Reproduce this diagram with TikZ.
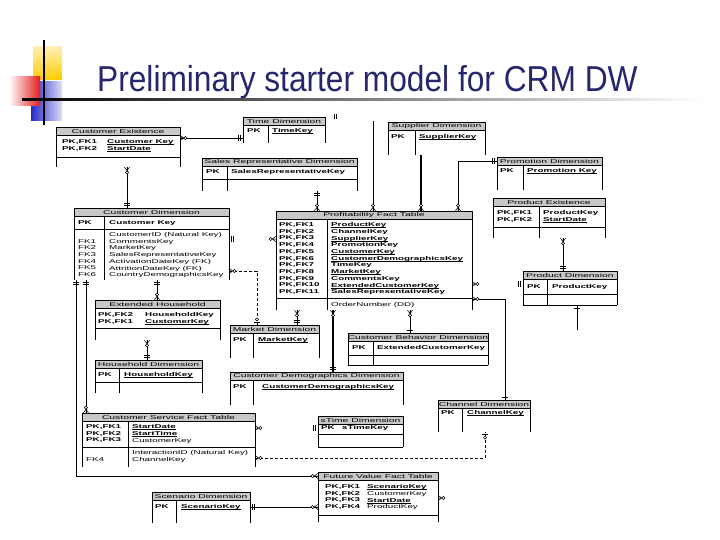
\documentclass[tikz,border=0pt]{standalone}
\usepackage{fontspec}
\setmainfont{Liberation Sans}
\newfontfamily\titlefont[FakeStretch=0.88]{Liberation Sans}
\newfontfamily\tblfont[FakeStretch=1.75]{Liberation Sans}
\newfontfamily\hdrfont[FakeStretch=1.85]{Liberation Sans}
\usetikzlibrary{positioning, calc, fit}
\definecolor{TitleNavy}{RGB}{38,38,110}
\definecolor{HeadGray}{RGB}{200,200,200}
\definecolor{DecoYellow}{RGB}{255,204,0}
\definecolor{DecoRed}{RGB}{230,30,30}
\definecolor{DecoBlue}{RGB}{40,40,200}

% bold key name, underlined just under the baseline
\newsavebox{\keybox}
\newcommand{\ukey}[1]{\sbox{\keybox}{\textbf{#1}}\rlap{\rule[-0.9pt]{\wd\keybox}{0.4pt}}\usebox{\keybox}}
\lineskiplimit=-6pt

\tikzset{
  tbltext/.style={font=\tblfont\fontsize{5.6}{6.7}\selectfont,
    inner sep=0pt, anchor=north west, align=left},
  tblhead/.style={fill=HeadGray, draw=black, line width=0.5pt, inner sep=0pt},
  hdrtext/.style={font=\hdrfont\fontsize{5.6}{6.7}\selectfont, inner sep=0pt},
  tblline/.style={line width=0.5pt},
  link/.style={line width=0.5pt},
  thicklink/.style={line width=1.6pt},
  dashlink/.style={line width=0.5pt, dash pattern=on 3pt off 2pt},
  pics/many/.style={code={
      \draw[link] (0,2.6pt) -- (3.5pt,0) -- (0,-2.6pt) (0,0) -- (3.5pt,0);
      \draw[link, fill=white] (5.2pt,0) circle (1.6pt);}},
  pics/one/.style={code={
      \draw[link] (2.5pt,-2.6pt) -- (2.5pt,2.6pt) (4.2pt,-2.6pt) -- (4.2pt,2.6pt);}},
  pics/onebar/.style={code={
      \draw[link] (3pt,-2.6pt) -- (3pt,2.6pt);}},
  pics/zeroone/.style={code={
      \draw[link] (2.5pt,-2.6pt) -- (2.5pt,2.6pt);
      \draw[link, fill=white] (5.5pt,0) circle (1.6pt);}},
}

% table frame: name, x1, y1, x2, y2, title
\newcommand{\ertable}[6]{%
  \node[inner sep=0pt, fit={(#2,#3) (#4,#5)}] (#1) {};
  \draw[tblline] (#1.south west) -- (#1.north west) -- (#1.north east) -- (#1.south east);
  \node[tblhead, fit={(#2,#3) (#4,{#3+8.5})}] (#1-h) {};
  \node[hdrtext] (#1-t) at (#1-h.center) {#6};
}
\newcommand{\tbldiv}[2]{\draw[tblline] (#1-h.south -| #2,0) -- (#1.south -| #2,0);}
\newcommand{\tblsep}[2]{\draw[tblline] (#1.west |- 0,#2) -- (#1.east |- 0,#2);}
\newcommand{\tblshut}[1]{\draw[tblline] (#1.south west) -- (#1.south east);}

\begin{document}
\begin{tikzpicture}[x=1pt, y=-1pt]
\useasboundingbox (0,0) rectangle (720,540);

% corner ornament and title
\shade[top color=DecoYellow!30, bottom color=DecoYellow] (33,47) rectangle (62,80);
\shade[left color=DecoBlue, right color=DecoBlue!15] (31,82) rectangle (62,121);
\shade[left color=white, right color=DecoRed] (9,77) rectangle (40,106);
\shade[left color=black, right color=white] (22,99) rectangle (705,101);
\fill[black] (43,40) rectangle (45,125);
\node[anchor=base west, inner sep=0pt, text=TitleNavy,
      font=\titlefont\fontsize{36}{40}\selectfont] (title) at (97,92)
  {Preliminary starter model for CRM DW};

% tables
\ertable{custex}{56}{127}{180}{167}{Customer Existence}
\tblsep{custex}{157}
\node[tbltext] (custex-k) at (62,139.5) {\textbf{PK,FK1}\\\textbf{PK,FK2}};
\node[tbltext] (custex-f) at (107,139.5) {\ukey{Customer Key}\\\ukey{StartDate}};

\ertable{timedim}{243}{117}{325}{143}{Time Dimension}
\tbldiv{timedim}{268}
\node[tbltext] (timedim-k) at (247,128.5) {\textbf{PK}};
\node[tbltext] (timedim-f) at (272,128.5) {\ukey{TimeKey}};

\ertable{salesrep}{202}{158}{357}{191}{Sales Representative Dimension}
\tbldiv{salesrep}{227}
\tblsep{salesrep}{179}
\node[tbltext] (salesrep-k) at (206,169.5) {\textbf{PK}};
\node[tbltext] (salesrep-f) at (231,169.5) {\textbf{SalesRepresentativeKey}};

\ertable{supplier}{388}{122}{485}{155}{Supplier Dimension}
\tbldiv{supplier}{415}
\node[tbltext] (supplier-k) at (391,134.5) {\textbf{PK}};
\node[tbltext] (supplier-f) at (419,134.5) {\ukey{SupplierKey}};

\ertable{promo}{497}{157}{602}{190}{Promotion Dimension}
\tbldiv{promo}{523}
\node[tbltext] (promo-k) at (500,168.5) {\textbf{PK}};
\node[tbltext] (promo-f) at (527,168.5) {\ukey{Promotion Key}};

\ertable{prodex}{493}{198}{605}{238}{Product Existence}
\tbldiv{prodex}{539}
\tblsep{prodex}{227}
\node[tbltext] (prodex-k) at (497,210.5) {\textbf{PK,FK1}\\\textbf{PK,FK2}};
\node[tbltext] (prodex-f) at (543,210.5) {\textbf{ProductKey}\\\ukey{StartDate}};

\ertable{proddim}{523}{271}{617}{305}{Product Dimension}
\tbldiv{proddim}{547}
\tblsep{proddim}{294}
\tblshut{proddim}
\node[tbltext] (proddim-k) at (527,284.5) {\textbf{PK}};
\node[tbltext] (proddim-f) at (552,284.5) {\textbf{ProductKey}};

\ertable{custdim}{74}{208}{229}{280}{Customer Dimension}
\tbldiv{custdim}{104}
\tblsep{custdim}{229}
\node[tbltext] (custdim-k) at (78,220.5) {\textbf{PK}};
\node[tbltext] (custdim-f) at (109,220.5) {\textbf{Customer Key}};
\node[tbltext] (custdim-fk) at (78,239) {FK1\\FK2\\FK3\\FK4\\FK5\\FK6};
\node[tbltext] (custdim-a) at (109,232.3) {CustomerID (Natural Key)\\CommentsKey\\MarketKey\\
  SalesRepresentativeKey\\ActivationDateKey (FK)\\AttritionDateKey (FK)\\CountryDemographicsKey};

\ertable{exthh}{95}{300}{220}{340}{Extended Household}
\tblsep{exthh}{328}
\node[tbltext] (exthh-k) at (98,312.5) {\textbf{PK,FK2}\\\textbf{PK,FK1}};
\node[tbltext] (exthh-f) at (145,312.5) {\textbf{HouseholdKey}\\\ukey{CustomerKey}};

\ertable{hhdim}{95}{360}{202}{393}{Household Dimension}
\tbldiv{hhdim}{119}
\tblsep{hhdim}{382}
\node[tbltext] (hhdim-k) at (98,372.5) {\textbf{PK}};
\node[tbltext] (hhdim-f) at (124,372.5) {\ukey{HouseholdKey}};

\ertable{profit}{276}{211}{472}{310}{Profitability Fact Table}
\tbldiv{profit}{327}
\tblsep{profit}{298}
\node[tbltext] (profit-k) at (279,222.5) {\textbf{PK,FK1}\\\textbf{PK,FK2}\\\textbf{PK,FK3}\\
  \textbf{PK,FK4}\\\textbf{PK,FK5}\\\textbf{PK,FK6}\\\textbf{PK,FK7}\\\textbf{PK,FK8}\\
  \textbf{PK,FK9}\\\textbf{PK,FK10}\\\textbf{PK,FK11}};
\node[tbltext] (profit-f) at (331,222.5) {\ukey{ProductKey}\\\textbf{ChannelKey}\\
  \ukey{SupplierKey}\\\textbf{PromotionKey}\\\ukey{CustomerKey}\\
  \ukey{CustomerDemographicsKey}\\\textbf{TimeKey}\\\ukey{MarketKey}\\
  \textbf{CommentsKey}\\\ukey{ExtendedCustomerKey}\\\textbf{SalesRepresentativeKey}};
\node[tbltext] (profit-a) at (331,302.5) {OrderNumber (DD)};

\ertable{market}{230}{325}{319}{358}{Market Dimension}
\tbldiv{market}{253}
\node[tbltext] (market-k) at (233,337.5) {\textbf{PK}};
\node[tbltext] (market-f) at (258,337.5) {\ukey{MarketKey}};

\ertable{custbeh}{348}{333}{488}{365}{Customer Behavior Dimension}
\tbldiv{custbeh}{373}
\tblsep{custbeh}{355}
\tblshut{custbeh}
\node[tbltext] (custbeh-k) at (352,345.5) {\textbf{PK}};
\node[tbltext] (custbeh-f) at (377,345.5) {\textbf{ExtendedCustomerKey}};

\ertable{custdemo}{230}{372}{403}{405}{Customer Demographics Dimension}
\tbldiv{custdemo}{253}
\node[tbltext] (custdemo-k) at (233,384.5) {\textbf{PK}};
\node[tbltext] (custdemo-f) at (262,384.5) {\ukey{CustomerDemographicsKey}};

\ertable{channel}{438}{400}{530}{432}{Channel Dimension}
\tbldiv{channel}{462}
\node[tbltext] (channel-k) at (441,410.5) {\textbf{PK}};
\node[tbltext] (channel-f) at (467,410.5) {\ukey{ChannelKey}};

\ertable{stime}{318}{416}{403}{447}{sTime Dimension}
\tblsep{stime}{434}
\tblshut{stime}
\node[tbltext] (stime-k) at (321,425.5) {\textbf{PK}};
\node[tbltext] (stime-f) at (342,425.5) {\textbf{sTimeKey}};

\ertable{custserv}{82}{413}{255}{467}{Customer Service Fact Table}
\tbldiv{custserv}{128}
\tblsep{custserv}{447}
\node[tbltext] (custserv-k) at (86,424.5) {\textbf{PK,FK1}\\\textbf{PK,FK2}\\\textbf{PK,FK3}};
\node[tbltext] (custserv-f) at (132,424.5) {\ukey{StartDate}\\\ukey{StartTime}\\CustomerKey};
\node[tbltext] (custserv-fk) at (86,457.5) {FK4};
\node[tbltext] (custserv-a) at (132,450.5) {InteractionID (Natural Key)\\ChannelKey};

\ertable{futval}{318}{472}{438}{522}{Future Value Fact Table}
\tblsep{futval}{515}
\node[tbltext] (futval-k) at (325,484.5) {\textbf{PK,FK1}\\\textbf{PK,FK2}\\\textbf{PK,FK3}\\\textbf{PK,FK4}};
\node[tbltext] (futval-f) at (367,484.5) {\ukey{ScenarioKey}\\CustomerKey\\\ukey{StartDate}\\ProductKey};

\ertable{scenario}{152}{492}{250}{523}{Scenario Dimension}
\tbldiv{scenario}{176}
\node[tbltext] (scenario-k) at (155,504.5) {\textbf{PK}};
\node[tbltext] (scenario-f) at (181,504.5) {\ukey{ScenarioKey}};

% relationships
\coordinate (timeend) at (373,121);
\draw[link] (334,114) -- (334,119) (336.5,114) -- (336.5,119);

\draw[link] (custex.east |- 0,138) -- (timedim.west |- 0,138);
\pic at (custex.east |- 0,138) {many};
\pic[rotate=180] at (timedim.west |- 0,138) {one};

\draw[link] (custex.south -| 127,0) -- (custdim.north -| 127,0);
\pic[rotate=-90] at (custex.south -| 127,0) {many};
\pic[rotate=90] at (custdim.north -| 127,0) {one};

\draw[link] (salesrep.south -| 317,0) -- (profit.north -| 317,0);
\pic[rotate=-90] at (salesrep.south -| 317,0) {one};
\pic[rotate=90] at (profit.north -| 317,0) {many};

\draw[link] (timeend) -- (profit.north -| 373,0);
\pic[rotate=90] at (profit.north -| 373,0) {many};

\draw[thicklink] (supplier.south -| 421,0) -- (profit.north -| 421,0);
\pic[rotate=90] at (profit.north -| 421,0) {many};

\draw[link] (promo.west |- 0,161) -| (profit.north -| 458,0);
\pic[rotate=180] at (promo.west |- 0,161) {one};
\pic[rotate=90] at (profit.north -| 458,0) {many};

\draw[link] (prodex.south -| 563,0) -- (proddim.north -| 563,0);
\pic[rotate=-90] at (prodex.south -| 563,0) {many};
\pic[rotate=90] at (proddim.north -| 563,0) {one};

\pic at (custdim.east |- 0,239) {one};
\pic[rotate=180] at (profit.west |- 0,239) {many};

\draw[dashlink] (custdim.east |- 0,271) -| (market.north -| 257,0);
\pic at (custdim.east |- 0,271) {many};
\pic[rotate=90] at (market.north -| 257,0) {zeroone};

\draw[link] (profit.south -| 297,0) -- (market.north -| 297,0);
\pic[rotate=-90] at (profit.south -| 297,0) {many};
\pic[rotate=90] at (market.north -| 297,0) {one};

\draw[thicklink] (profit.south -| 333,0) -- (custdemo.north -| 333,0);
\pic[rotate=-90] at (profit.south -| 333,0) {many};
\pic[rotate=90] at (custdemo.north -| 333,0) {one};

\draw[link] (profit.south -| 410,0) -- (custbeh.north -| 410,0);
\pic[rotate=-90] at (profit.south -| 410,0) {many};
\pic[rotate=90] at (custbeh.north -| 410,0) {onebar};

\pic at (profit.east |- 0,284) {many};
\pic[rotate=180] at (proddim.west |- 0,284) {one};

\draw[link] (profit.east |- 0,299) -| (channel.north -| 505,0);
\pic at (profit.east |- 0,299) {many};
\pic[rotate=90] at (channel.north -| 505,0) {onebar};

\coordinate (prodend) at (577,330);
\draw[link] (proddim.south -| 577,0) -- (prodend);
\pic[rotate=-90] at (proddim.south -| 577,0) {onebar};

\draw[link] (exthh.south -| 147,0) -- (hhdim.north -| 147,0);
\pic[rotate=-90] at (exthh.south -| 147,0) {many};
\pic[rotate=90] at (hhdim.north -| 147,0) {one};

\draw[link] (custdim.south -| 157,0) -- (exthh.north -| 157,0);
\pic[rotate=-90] at (custdim.south -| 157,0) {one};
\pic[rotate=90] at (exthh.north -| 157,0) {many};

\draw[link] (custdim.south -| 86,0) -- (custserv.north -| 86,0);
\pic[rotate=-90] at (custdim.south -| 86,0) {one};
\pic[rotate=90] at (custserv.north -| 86,0) {many};

\draw[link] (custdim.south -| 76,0) |- (futval.west |- 0,476);
\pic[rotate=-90] at (custdim.south -| 76,0) {one};
\pic[rotate=180] at (futval.west |- 0,476) {many};

\pic at (custserv.east |- 0,428) {many};
\pic[rotate=180] at (stime.west |- 0,428) {one};

\draw[dashlink] (custserv.east |- 0,458) -| (channel.south -| 485,0);
\pic at (custserv.east |- 0,458) {many};
\pic[rotate=-90] at (channel.south -| 485,0) {zeroone};

\draw[link] (scenario.east |- 0,507) -- (futval.west |- 0,507);
\pic at (scenario.east |- 0,507) {one};
\pic[rotate=180] at (futval.west |- 0,507) {many};

\pic at (futval.east |- 0,498) {many};
\end{tikzpicture}
\end{document}
